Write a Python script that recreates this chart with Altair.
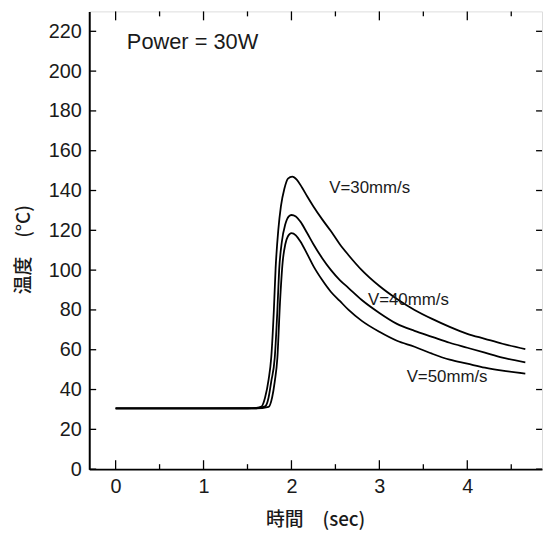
import altair as alt
import pandas as pd

# ---- data ----
x30 = [0.0, 0.5, 1.0, 1.5, 1.6, 1.66, 1.70, 1.74, 1.77, 1.80, 1.82, 1.85, 1.88, 1.92, 1.96, 2.01,
       2.06, 2.12, 2.18, 2.25, 2.35, 2.45, 2.55, 2.65, 2.8, 3.0, 3.2, 3.4, 3.6, 3.8, 4.0, 4.2, 4.4, 4.66]
y30 = [30.5, 30.5, 30.5, 30.6, 30.8, 31.5, 36, 45, 56, 80, 101, 120, 132, 141, 146, 147,
       145.5, 141.5, 137, 132, 125.5, 119.5, 113, 107.5, 100, 92, 85.5, 80, 75.5, 71.5, 68, 65.5, 63, 60.3]

x40 = [0.0, 0.5, 1.0, 1.5, 1.6, 1.70, 1.74, 1.77, 1.81, 1.84, 1.86, 1.89, 1.93, 1.97, 2.0,
       2.05, 2.1, 2.18, 2.25, 2.35, 2.45, 2.55, 2.65, 2.8, 3.0, 3.2, 3.4, 3.6, 3.8, 4.0, 4.2, 4.4, 4.66]
y40 = [30.5, 30.5, 30.5, 30.5, 30.6, 31.5, 36, 44, 56, 80, 100, 114, 123, 127, 127.7,
       127, 124.5, 118.5, 113, 106, 100, 95, 91, 85, 78.5, 73, 69.5, 66.5, 63.5, 61, 58.5, 56, 53.7]

x50 = [0.0, 0.5, 1.0, 1.5, 1.6, 1.74, 1.78, 1.81, 1.84, 1.87, 1.90, 1.93, 1.96, 2.0,
       2.05, 2.1, 2.18, 2.25, 2.35, 2.45, 2.55, 2.65, 2.8, 3.0, 3.2, 3.4, 3.6, 3.8, 4.0, 4.2, 4.4, 4.66]
y50 = [30.5, 30.5, 30.5, 30.5, 30.5, 31.3, 36, 44, 56, 84, 104, 113, 117, 118.6,
       117.5, 114.5, 108, 102, 95, 89, 84.5, 80, 74.5, 69, 64.5, 61.5, 58, 55, 53, 51, 49.5, 48]

series_names = ["V=30mm/s", "V=40mm/s", "V=50mm/s"]

label_text = ["V=30mm/s", "V=40mm/s", "V=50mm/s"]
label_x = [2.43, 2.87, 3.31]
label_y = [141.1, 84.9, 46.3]

power_text = ["Power = 30W"]
power_x = [0.128]
power_y = [214.5]

x_major = [0, 1, 2, 3, 4]
x_minor = [0.5, 1.5, 2.5, 3.5, 4.5]
y_ticks = list(range(0, 221, 20))

X_DOM = [-0.3, 4.85]
Y_DOM = [0, 230]
W, H = 457, 462

# tick lengths converted from pixels to data units
px_x = (X_DOM[1] - X_DOM[0]) / W
px_y = (Y_DOM[1] - Y_DOM[0]) / H

rows = []
for name, xs, ys in zip(series_names, [x30, x40, x50], [y30, y40, y50]):
    for a, b in zip(xs, ys):
        rows.append({"t": a, "temp": b, "series": name})
df = pd.DataFrame(rows)

tick_rows = []
for v in x_major:
    tick_rows.append({"t": v, "t2": v, "temp": Y_DOM[0], "temp2": Y_DOM[0] + 9 * px_y})
    tick_rows.append({"t": v, "t2": v, "temp": Y_DOM[1], "temp2": Y_DOM[1] - 9 * px_y})
for v in x_minor:
    tick_rows.append({"t": v, "t2": v, "temp": Y_DOM[0], "temp2": Y_DOM[0] + 5 * px_y})
    tick_rows.append({"t": v, "t2": v, "temp": Y_DOM[1], "temp2": Y_DOM[1] - 5 * px_y})
for v in y_ticks:
    tick_rows.append({"t": X_DOM[0], "t2": X_DOM[0] + 7 * px_x, "temp": v, "temp2": v})
    tick_rows.append({"t": X_DOM[1], "t2": X_DOM[1] - 6 * px_x, "temp": v, "temp2": v})
ticks_df = pd.DataFrame(tick_rows)

labels_df = pd.DataFrame({"t": label_x, "temp": label_y, "label": label_text})
power_df = pd.DataFrame({"t": power_x, "temp": power_y, "label": power_text})

LABEL_FONT = "Liberation Sans"
CJK_FONT = "Noto Sans CJK JP"

x_enc = alt.X(
    "t:Q",
    scale=alt.Scale(domain=X_DOM, nice=False, zero=False),
    axis=alt.Axis(
        values=x_major, ticks=False, grid=False, labelPadding=8,
        labelFont=LABEL_FONT, labelFontSize=20, labelColor="#1a1a1a",
        domainColor="black", domainWidth=2,
        title="時間　(sec)", titleFont=CJK_FONT, titleFontSize=19,
        titleFontWeight=500, titleColor="#1a1a1a",
        titleX=228, titleY=51, titleBaseline="middle", titleAlign="center",
    ),
)
y_enc = alt.Y(
    "temp:Q",
    scale=alt.Scale(domain=Y_DOM, nice=False, zero=True),
    axis=alt.Axis(
        values=y_ticks, ticks=False, grid=False, labelPadding=8,
        labelFont=LABEL_FONT, labelFontSize=20, labelColor="#1a1a1a",
        domainColor="black", domainWidth=2,
        title="温度　(°C)", titleFont=CJK_FONT, titleFontSize=19,
        titleFontWeight=500, titleColor="#1a1a1a",
        titleAngle=270, titleX=-66, titleY=240,
        titleBaseline="middle", titleAlign="center",
    ),
)

lines = alt.Chart(df).mark_line(
    color="black", strokeWidth=1.8, interpolate="monotone"
).encode(x=x_enc, y=y_enc, detail="series:N")

ticks = alt.Chart(ticks_df).mark_rule(color="black", strokeWidth=1.3).encode(
    x=x_enc, x2="t2:Q", y=y_enc, y2="temp2:Q"
)

labels = alt.Chart(labels_df).mark_text(
    align="left", baseline="middle", font=LABEL_FONT, fontSize=17, color="#1a1a1a"
).encode(x=x_enc, y=y_enc, text="label:N")

power = alt.Chart(power_df).mark_text(
    align="left", baseline="middle", font=LABEL_FONT, fontSize=22, color="#1a1a1a"
).encode(x=x_enc, y=y_enc, text="label:N")

chart = (
    alt.layer(lines, ticks, labels, power)
    .properties(
        width=W, height=H,
        autosize=alt.AutoSizeParams(type="none"),
        padding={"left": 82, "top": 1, "right": 2, "bottom": 60},
    )
    .configure_view(stroke="black", strokeWidth=1.5)
    .configure(background="white")
)

chart.save("out.html", embed_options={"renderer": "svg", "actions": False})
